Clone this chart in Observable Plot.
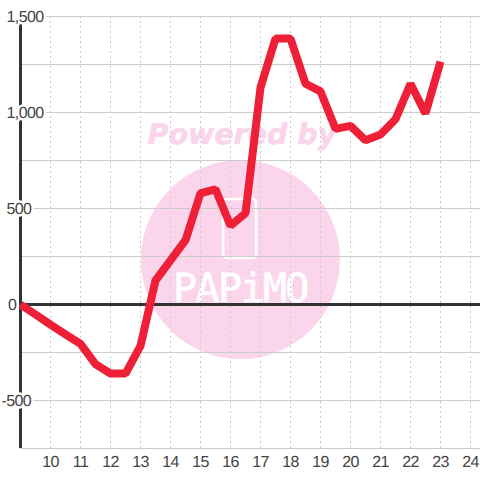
<!DOCTYPE html>
<html><head><meta charset="utf-8">
<style>html,body{margin:0;padding:0;background:#fff}svg{display:block}
.lab{letter-spacing:-0.6px}.logo{letter-spacing:-1.6px}</style>
<script src="https://cdn.jsdelivr.net/npm/d3@7"></script>
<script src="https://cdn.jsdelivr.net/npm/@observablehq/plot@0.6"></script>
</head><body><script>
const hours = [9,9.5,10,10.5,11,11.5,12,12.5,13,13.5,14,14.5,15,15.5,16,16.5,17,17.5,18,18.5,19,19.5,20,20.5,21,21.5,22,22.5,23];
const values = [0,-52,-105,-155,-205,-310,-360,-360,-215,125,230,335,580,600,410,475,1130,1385,1385,1150,1110,915,930,855,885,965,1150,995,1265];
const xTicks = [10,11,12,13,14,15,16,17,18,19,20,21,22,23,24];
const yGrid = [-750,-500,-250,0,250,500,750,1000,1250,1500];
const yLabels = [1500,1000,500];
const yZeroLabel = [0];
const yNegLabels = [-500];
const series = hours.map((h,i)=>({h,v:values[i]}));
const fmt = d3.format(",");
const pink = "#fbd5ec";
const font = "'Liberation Sans'";
const labelStyle = {className:"lab",textAnchor:"start",fontSize:16,fill:"#444",stroke:"#fff",strokeWidth:5,paintOrder:"stroke"};
const chart = Plot.plot({
  width:480,height:480,
  marginLeft:20,marginRight:0,marginTop:16,marginBottom:32,
  style:{background:"#fff",fontFamily:font,overflow:"hidden",textRendering:"geometricPrecision"},
  x:{domain:[9,24+1/3],axis:null},
  y:{domain:[-750,1500],axis:null},
  marks:[
    Plot.dot([{h:16.33,v:234}],{x:"h",y:"v",r:99.5,fill:pink,stroke:null}),
    Plot.rect([{x1:15.77,x2:16.87,y1:240,y2:547}],{x1:"x1",x2:"x2",y1:"y1",y2:"y2",fill:"none",stroke:"#fff",strokeWidth:2.5,rx:4}),
    Plot.text(["PAPiMO"],{className:"logo",x:()=>16.33,y:()=>78,text:d=>d,fill:"#fff",stroke:"#fff",strokeWidth:0.6,fontSize:40,fontFamily:"'DejaVu Sans Mono'",textAnchor:"middle"}),
    Plot.text(["Powered by"],{x:()=>16.38,y:()=>885,text:d=>d,fill:pink,stroke:pink,strokeWidth:0.6,fontSize:28.5,fontFamily:"'DejaVu Sans'",fontWeight:"bold",fontStyle:"italic",textAnchor:"middle"}),
    Plot.ruleY(yGrid,{stroke:"#cccccc",strokeWidth:1}),
    Plot.ruleX(xTicks,{stroke:"#cccccc",strokeWidth:1,strokeDasharray:"2,3"}),
    Plot.ruleY([0],{stroke:"#333333",strokeWidth:3}),
    Plot.ruleX([9],{stroke:"#333333",strokeWidth:3}),
    Plot.line(series,{x:"h",y:"v",stroke:"#ee2037",strokeWidth:8,strokeLinejoin:"miter",strokeLinecap:"butt",curve:"linear"}),
    Plot.text(yLabels,{x:()=>9,y:d=>d,text:d=>fmt(d),dx:-14,...labelStyle}),
    Plot.text(yZeroLabel,{x:()=>9,y:d=>d,text:d=>fmt(d),dx:-12.5,...labelStyle}),
    Plot.text(yNegLabels,{x:()=>9,y:d=>d,text:d=>fmt(d).replace("−","-"),dx:-19,...labelStyle}),
    Plot.text(xTicks,{className:"lab",x:d=>d,y:()=>-750,dy:13,text:d=>String(d),fontSize:16,fill:"#444",textAnchor:"middle"})
  ]
});
document.body.appendChild(chart);
</script></body></html>
